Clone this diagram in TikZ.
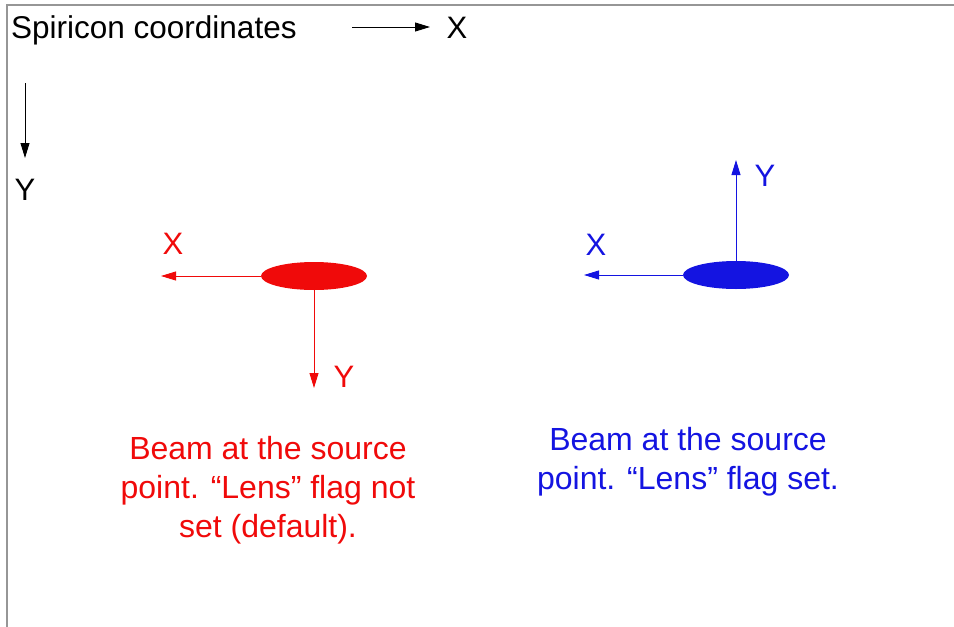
\documentclass[tikz,border=0pt]{standalone}
\usepackage{fontspec}
\setmainfont{Liberation Sans}
\usetikzlibrary{arrows.meta,shapes.geometric}
\definecolor{beamred}{RGB}{240,10,10}
\definecolor{beamblue}{RGB}{20,20,225}
\definecolor{framegray}{RGB}{150,150,150}
\tikzset{
  axis/.style={line width=0.9pt,-{Triangle[length=15pt,width=9pt]}},
  lbl/.style={inner sep=0pt,font=\fontsize{31}{34}\selectfont},
  caption/.style={inner sep=0pt,align=center,font=\fontsize{32}{39}\selectfont},
  beam/.style={ellipse,minimum width=106pt,minimum height=28pt,inner sep=0pt},
}
\begin{document}
\begin{tikzpicture}[x=1pt,y=-1pt]
\useasboundingbox (0,0) rectangle (954,627);
\draw[framegray,line width=1.5pt] (7,627) -- (7,5) -- (954,5);
% Spiricon coordinates
\node[lbl,anchor=west,font=\fontsize{31.5}{34}\selectfont] (title) at (11,30) {Spiricon coordinates};
\coordinate (gx0) at (352,27);
\coordinate (gx1) at (430,27);
\draw[axis] (gx0) -- (gx1);
\node[lbl] (gX) at (457,28) {X};
\coordinate (gy0) at (25,83);
\coordinate (gy1) at (25,158);
\draw[axis] (gy0) -- (gy1);
\node[lbl] (gY) at (25,190) {Y};
% red beam
\node[beam,fill=beamred] (rb) at (314,276) {};
\coordinate (rxt) at (161,276);
\coordinate (ryt) at (314,388);
\draw[axis,beamred] (rb.west) -- (rxt);
\draw[axis,beamred] (rb.south) -- (ryt);
\node[lbl,text=beamred] (rX) at (173,244) {X};
\node[lbl,text=beamred] (rY) at (344,377) {Y};
\node[caption,text=beamred] (rcap) at (268,490) {Beam at the source\\point. “Lens” flag not\\set (default).};
% blue beam
\node[beam,fill=beamblue] (bb) at (736,275) {};
\coordinate (bxt) at (584,275);
\coordinate (byt) at (736,160);
\draw[axis,beamblue] (bb.west) -- (bxt);
\draw[axis,beamblue] (bb.north) -- (byt);
\node[lbl,text=beamblue] (bX) at (596,245) {X};
\node[lbl,text=beamblue] (bY) at (765,176) {Y};
\node[caption,text=beamblue] (bcap) at (688,462) {Beam at the source\\point. “Lens” flag set.};
\end{tikzpicture}
\end{document}
